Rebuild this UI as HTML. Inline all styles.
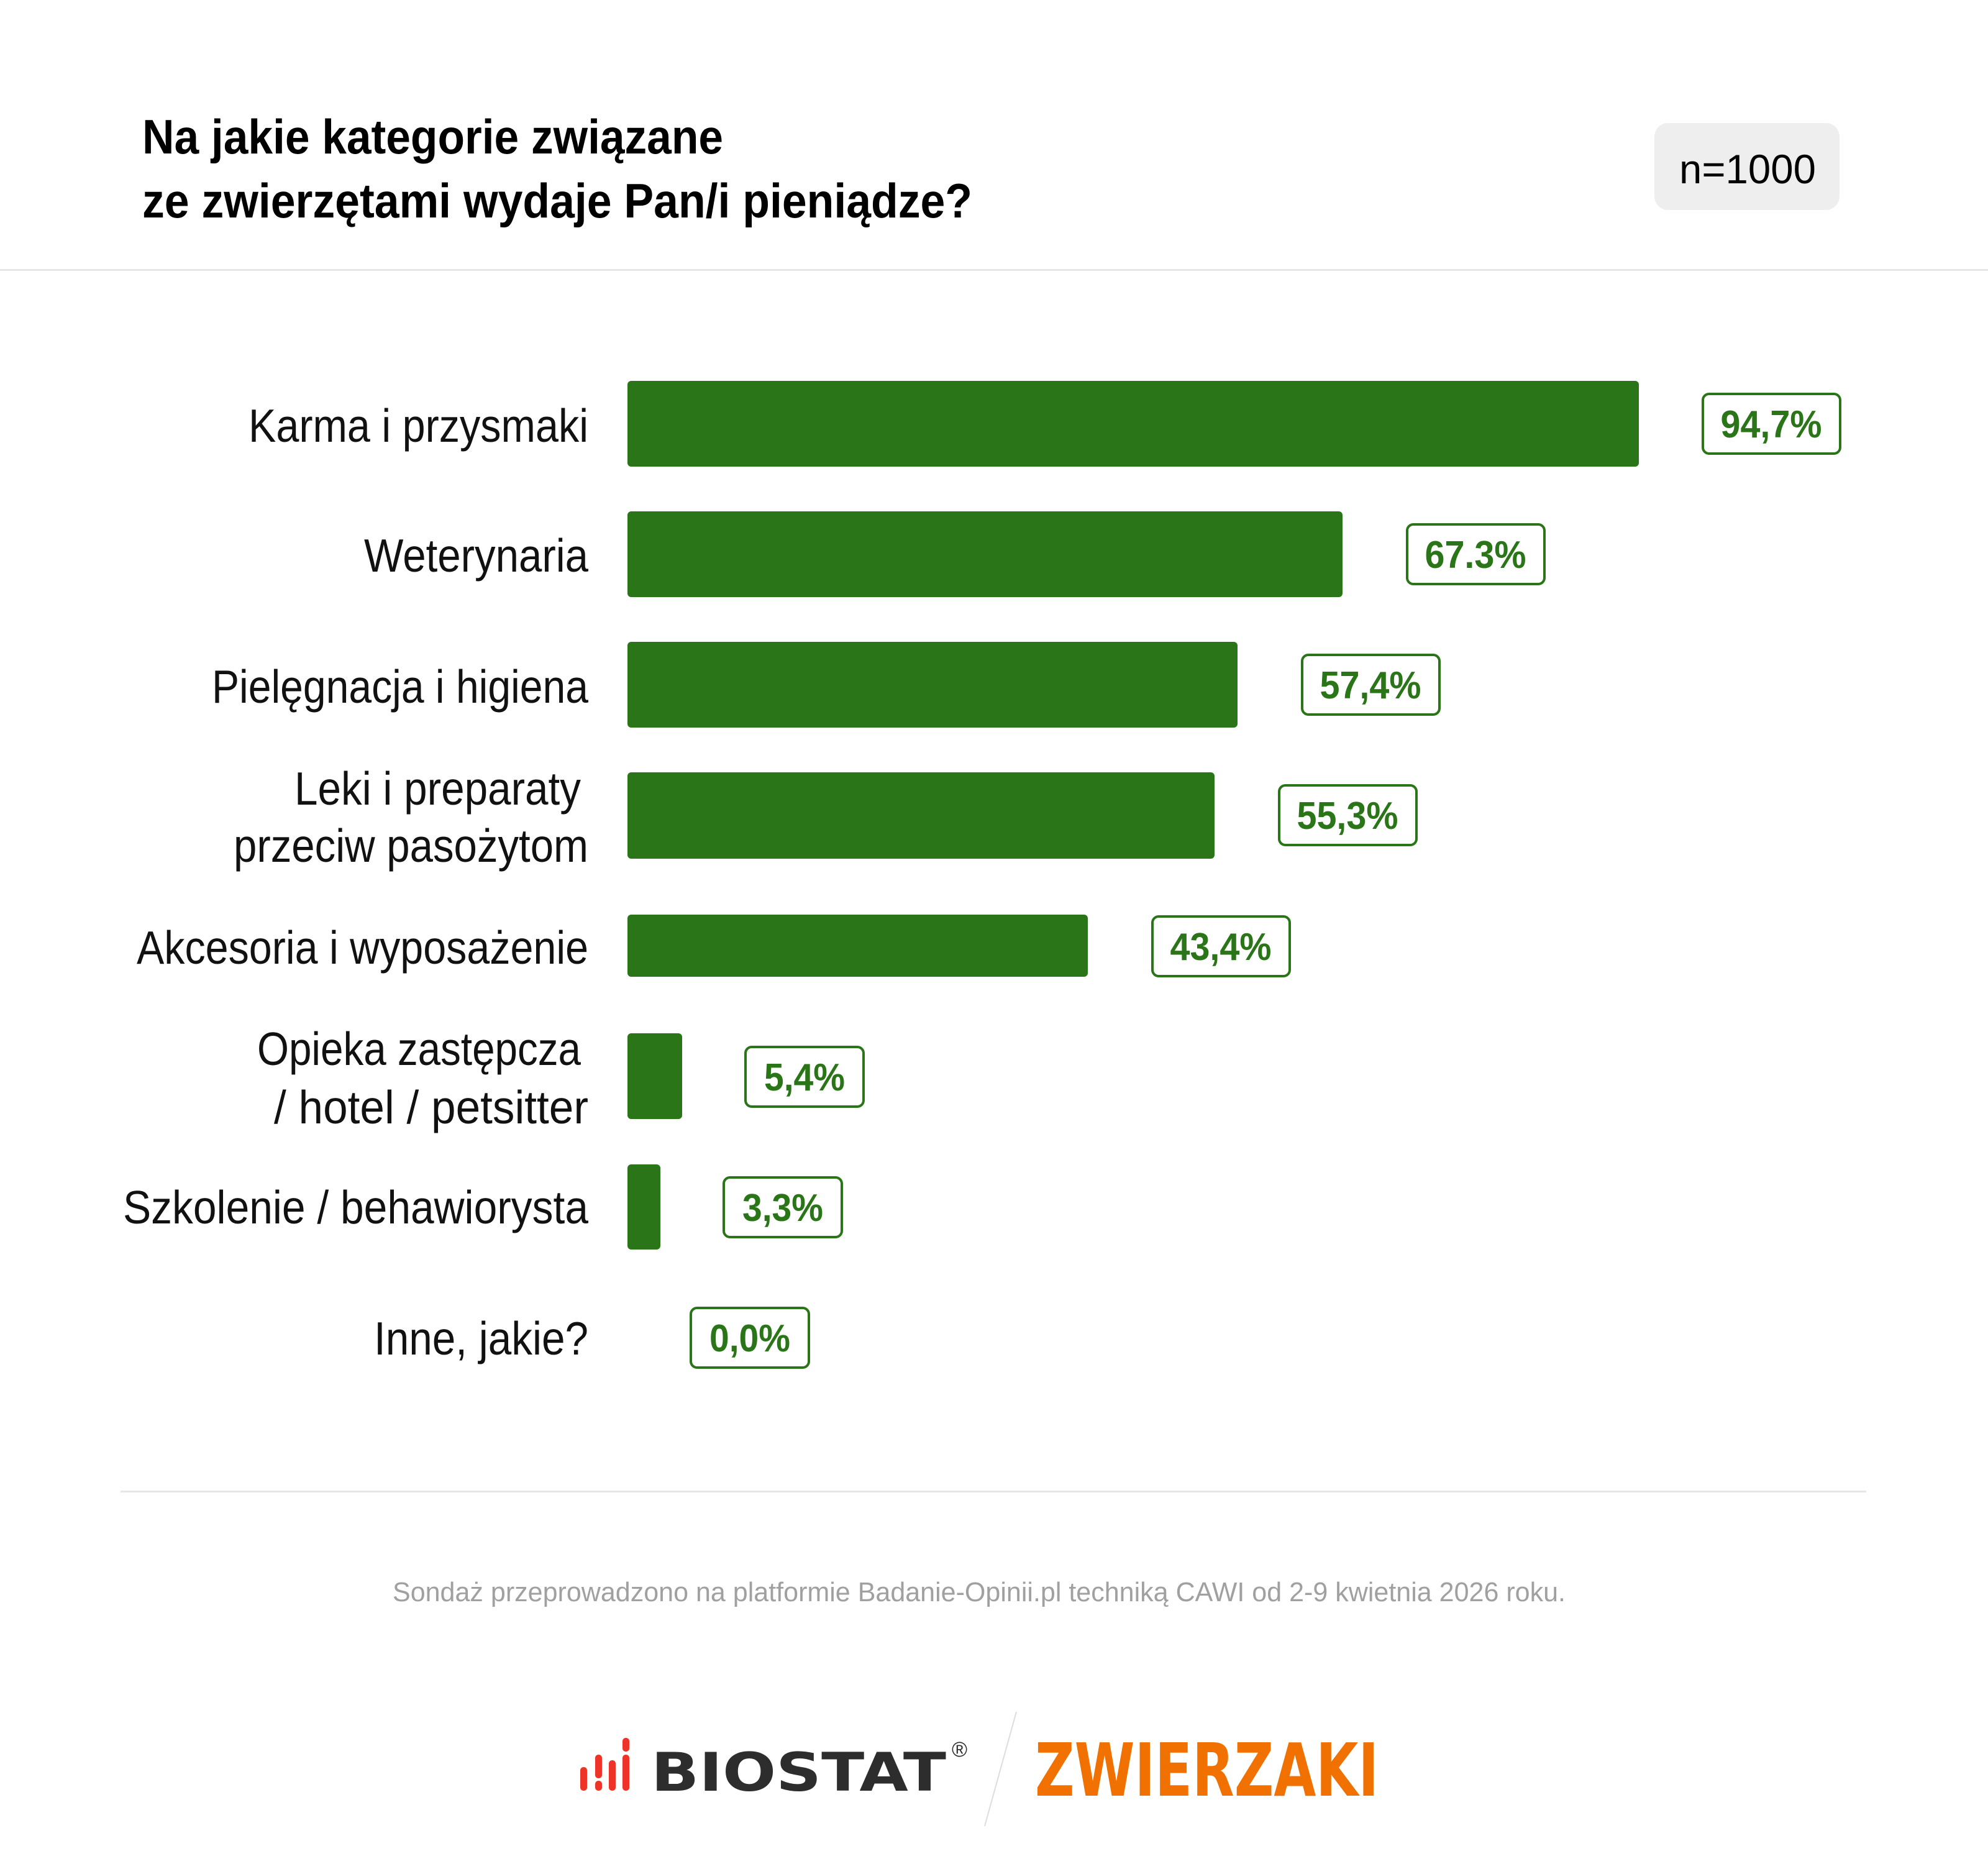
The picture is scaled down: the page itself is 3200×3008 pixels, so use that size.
<!DOCTYPE html>
<html><head><meta charset="utf-8"><style>
html,body{margin:0;padding:0;background:#fff;}
svg{display:block;}
text{font-family:"Liberation Sans Narrow","Liberation Sans",sans-serif;}
</style></head><body>
<svg width="3200" height="3008" viewBox="0 0 3200 3008" xmlns="http://www.w3.org/2000/svg">
<rect width="3200" height="3008" fill="#fff"/>
<text x="229" y="247" font-size="78" font-weight="bold" fill="#000" textLength="935" lengthAdjust="spacingAndGlyphs">Na jakie kategorie związane</text>
<text x="229" y="350" font-size="78" font-weight="bold" fill="#000" textLength="1336" lengthAdjust="spacingAndGlyphs">ze zwierzętami wydaje Pan/i pieniądze?</text>
<rect x="2663" y="198" width="298" height="140" rx="22" fill="#eeeeee"/>
<text x="2703" y="295" font-size="66" fill="#000" textLength="220" lengthAdjust="spacingAndGlyphs">n=1000</text>
<rect x="0" y="433" width="3200" height="3" fill="#e6e6e6"/>

<g fill="#2a7518">
<rect x="1010" y="613" width="1628" height="138" rx="6"/>
<rect x="1010" y="823" width="1151" height="138" rx="6"/>
<rect x="1010" y="1033" width="982" height="138" rx="6"/>
<rect x="1010" y="1243" width="945" height="139" rx="6"/>
<rect x="1010" y="1472" width="741" height="100" rx="6"/>
<rect x="1010" y="1663" width="88" height="138" rx="6"/>
<rect x="1010" y="1874" width="53" height="137" rx="6"/>
</g>

<g font-size="75" fill="#111" text-anchor="end">
<text x="947" y="711" textLength="547" lengthAdjust="spacingAndGlyphs">Karma i przysmaki</text>
<text x="947" y="920" textLength="361" lengthAdjust="spacingAndGlyphs">Weterynaria</text>
<text x="947" y="1131" textLength="606" lengthAdjust="spacingAndGlyphs">Pielęgnacja i higiena</text>
<text x="935" y="1295" textLength="461" lengthAdjust="spacingAndGlyphs">Leki i preparaty</text>
<text x="947" y="1387" textLength="571" lengthAdjust="spacingAndGlyphs">przeciw pasożytom</text>
<text x="947" y="1551" textLength="727" lengthAdjust="spacingAndGlyphs">Akcesoria i wyposażenie</text>
<text x="935" y="1714" textLength="521" lengthAdjust="spacingAndGlyphs">Opieka zastępcza</text>
<text x="947" y="1808" textLength="506" lengthAdjust="spacingAndGlyphs">/ hotel / petsitter</text>
<text x="947" y="1969" textLength="749" lengthAdjust="spacingAndGlyphs">Szkolenie / behawiorysta</text>
<text x="947" y="2180" textLength="345" lengthAdjust="spacingAndGlyphs">Inne, jakie?</text>
</g>

<g fill="#fff" stroke="#2a7518" stroke-width="4">
<rect x="2741" y="634" width="221" height="96" rx="10"/>
<rect x="2265" y="844" width="221" height="96" rx="10"/>
<rect x="2096" y="1054" width="221" height="96" rx="10"/>
<rect x="2059" y="1264" width="221" height="96" rx="10"/>
<rect x="1855" y="1475" width="221" height="96" rx="10"/>
<rect x="1200" y="1685" width="190" height="96" rx="10"/>
<rect x="1165" y="1895" width="190" height="96" rx="10"/>
<rect x="1112" y="2105" width="190" height="96" rx="10"/>
</g>
<g font-size="62" font-weight="bold" fill="#2a7518" text-anchor="middle">
<text x="2851" y="704" textLength="163" lengthAdjust="spacingAndGlyphs">94,7%</text>
<text x="2375" y="914" textLength="163" lengthAdjust="spacingAndGlyphs">67.3%</text>
<text x="2206" y="1124" textLength="163" lengthAdjust="spacingAndGlyphs">57,4%</text>
<text x="2169" y="1334" textLength="163" lengthAdjust="spacingAndGlyphs">55,3%</text>
<text x="1965" y="1545" textLength="163" lengthAdjust="spacingAndGlyphs">43,4%</text>
<text x="1295" y="1755" textLength="130" lengthAdjust="spacingAndGlyphs">5,4%</text>
<text x="1260" y="1965" textLength="130" lengthAdjust="spacingAndGlyphs">3,3%</text>
<text x="1207" y="2175" textLength="130" lengthAdjust="spacingAndGlyphs">0,0%</text>
</g>

<rect x="194" y="2399" width="2810" height="3" fill="#e6e6e6"/>
<text x="632" y="2577" font-size="44" fill="#a0a0a0" textLength="1888" lengthAdjust="spacingAndGlyphs">Sondaż przeprowadzono na platformie Badanie-Opinii.pl techniką CAWI od 2-9 kwietnia 2026 roku.</text>

<g fill="#ee3428">
<rect x="934" y="2844" width="11" height="38" rx="5"/>
<rect x="958" y="2824" width="11" height="38" rx="5"/>
<rect x="958" y="2866" width="11" height="16" rx="5"/>
<rect x="980" y="2833" width="11" height="49" rx="5"/>
<rect x="1002" y="2797" width="11" height="22" rx="5"/>
<rect x="1002" y="2824" width="11" height="58" rx="5"/>
</g>
<text x="1048" y="2882" font-size="86" font-weight="bold" fill="#2d2d2d" textLength="475" lengthAdjust="spacingAndGlyphs" style="font-family:'DejaVu Sans','Liberation Sans',sans-serif">BIOSTAT</text>
<text x="1532" y="2827" font-size="34" fill="#2d2d2d">®</text>
<line x1="1636" y1="2755" x2="1585" y2="2939" stroke="#dddddd" stroke-width="2"/>
<text x="1666" y="2890" font-size="118" font-weight="bold" fill="#f07000" textLength="553" lengthAdjust="spacingAndGlyphs" style="font-family:'DejaVu Sans','Liberation Sans',sans-serif">ZWIERZAKI</text>
</svg>
</body></html>
